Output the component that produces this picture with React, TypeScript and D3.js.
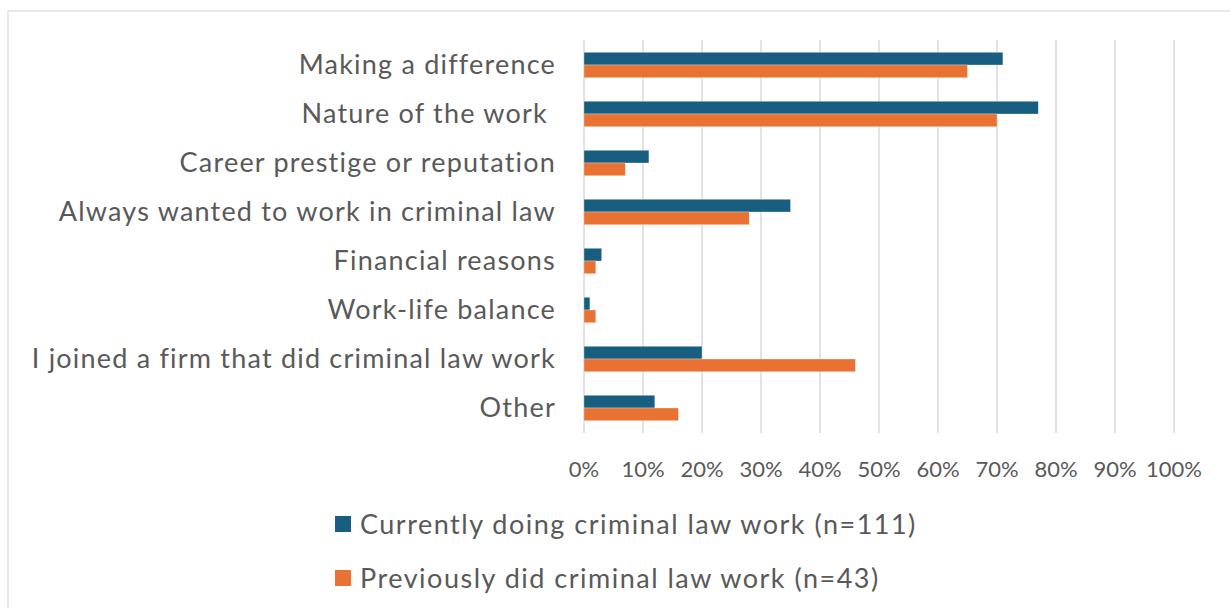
import React from "react";
import * as d3 from "d3";

const categories = [
  "Making a difference",
  "Nature of the work ",
  "Career prestige or reputation",
  "Always wanted to work in criminal law",
  "Financial reasons",
  "Work-life balance",
  "I joined a firm that did criminal law work",
  "Other",
];
const currentValues = [71, 77, 11, 35, 3, 1, 20, 12];
const previousValues = [65, 70, 7, 28, 2, 2, 46, 16];
const seriesNames = [
  "Currently doing criminal law work (n=111)",
  "Previously did criminal law work (n=43)",
];
const seriesColors = ["#175E81", "#E97132"];
const xTicks = [0, 10, 20, 30, 40, 50, 60, 70, 80, 90, 100];

const W = 1230;
const H = 608;
const FONT = "Lato, 'Open Sans', sans-serif";
const TEXT = "#595959";

export default function App() {
  const x = d3.scaleLinear().domain([0, 100]).range([584, 1174]);
  const y = d3.scaleBand<string>().domain(categories).range([40.5, 432.5]).paddingInner(0.48).paddingOuter(0.24);
  const inner = d3.scaleBand<number>().domain([0, 1]).range([0, y.bandwidth()]);
  const series = [currentValues, previousValues];

  return (
    <svg width={W} height={H} style={{ position: "absolute", left: 0, top: 0, background: "#fff" }}>
      <rect x={8} y={11} width={W} height={H} fill="#fff" stroke="#d9d9d9" strokeWidth={1.2} />
      {xTicks.map((t) => (
        <line key={t} x1={x(t)} x2={x(t)} y1={40} y2={433} stroke="#d9d9d9" strokeWidth={1.5} />
      ))}
      {categories.map((c, i) => (
        <g key={c}>
          {series.map((vals, s) => (
            <rect
              key={s}
              x={x(0)}
              y={(y(c) as number) + (inner(s) as number)}
              width={x(vals[i]) - x(0)}
              height={inner.bandwidth()}
              fill={seriesColors[s]}
              stroke="#fff"
              strokeOpacity={0.5}
              strokeWidth={0.6}
            />
          ))}
          <text
            x={556}
            y={(y(c) as number) + y.bandwidth() / 2 - 1.5}
            textAnchor="end"
            dominantBaseline="central"
            fontFamily={FONT}
            fontSize={27}
            letterSpacing={1.2}
            fill={TEXT}
            style={{ whiteSpace: "pre" }}
          >
            {c}
          </text>
        </g>
      ))}
      {xTicks.map((t) => (
        <text key={t} x={x(t)} y={468} textAnchor="middle" dominantBaseline="central" fontFamily={FONT} fontSize={22} fill={TEXT}>
          {t}%
        </text>
      ))}
      {seriesNames.map((n, s) => (
        <g key={n} transform={`translate(335, ${524 + s * 54})`}>
          <rect x={0} y={-8} width={16} height={16} fill={seriesColors[s]} />
          <text x={25} y={-1} dominantBaseline="central" fontFamily={FONT} fontSize={27} letterSpacing={1.5} fill={TEXT}>
            {n}
          </text>
        </g>
      ))}
    </svg>
  );
}
